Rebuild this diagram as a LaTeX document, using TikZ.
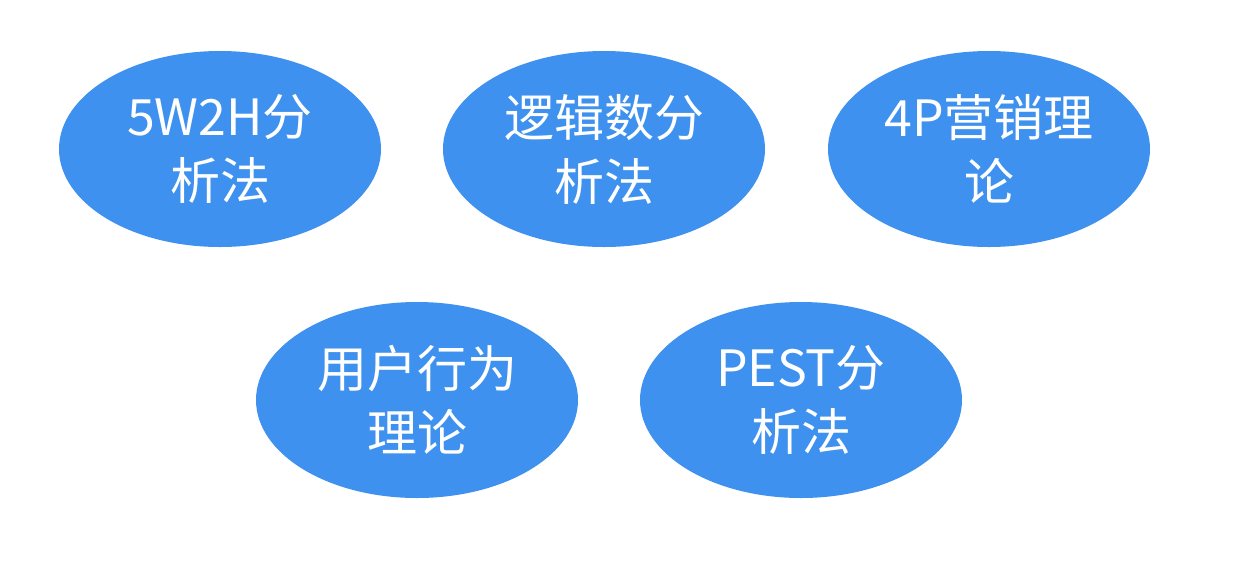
\documentclass[tikz,border=0pt]{standalone}
\usepackage{fontspec}
\setmainfont{Noto Sans CJK SC}
\usetikzlibrary{shapes.geometric}
\definecolor{bubbleblue}{HTML}{3E91EE}
\tikzset{bubble/.style={ellipse, fill=bubbleblue, text=white, inner sep=0pt,
    minimum width=322pt, minimum height=196pt, align=center,
    font=\fontsize{50}{64}\selectfont}}
\begin{document}
\begin{tikzpicture}[x=1pt, y=-1pt]
\useasboundingbox (0,0) rectangle (1242,566);
% obere Reihe
\node[bubble] (wh) at (220,149) {5W2H分\\析法};
\node[bubble] (logik) at (604,149) {逻辑数分\\析法};
\node[bubble] (vierp) at (989,149) {4P营销理\\论};
% untere Reihe
\node[bubble] (nutzer) at (417,400) {用户行为\\理论};
\node[bubble] (pest) at (801,400) {PEST分\\析法};
\end{tikzpicture}
\end{document}
